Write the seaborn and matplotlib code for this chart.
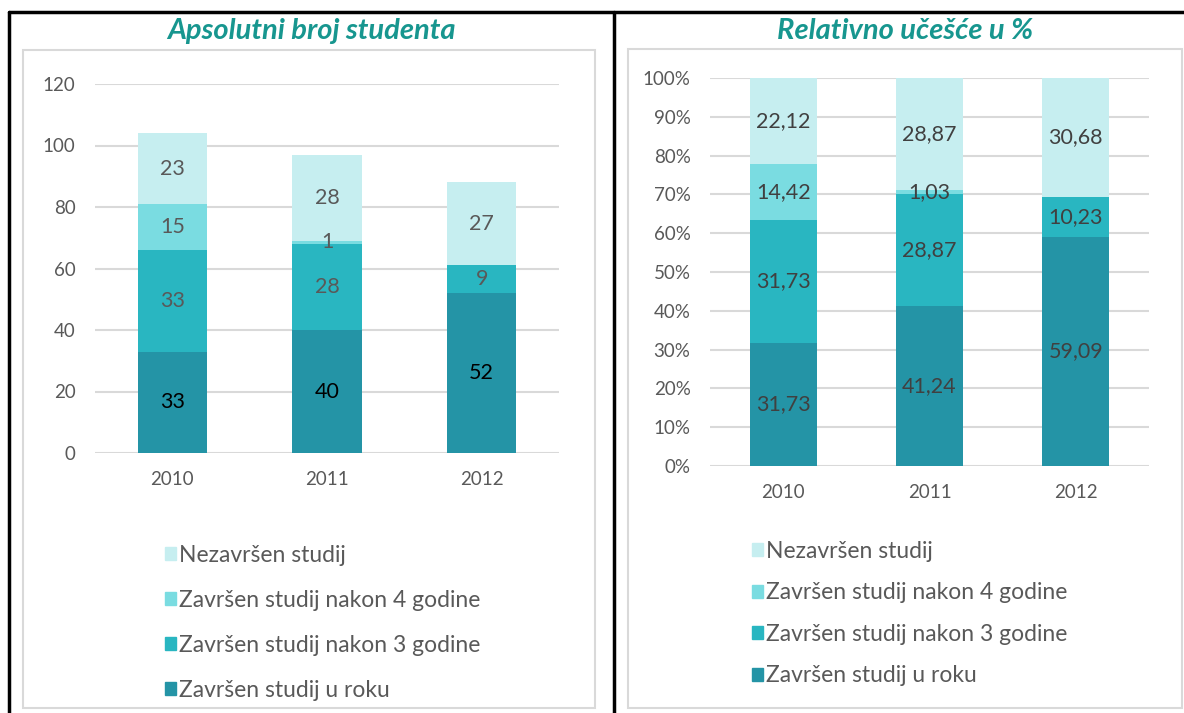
import numpy as np
import pandas as pd
import matplotlib
matplotlib.use("Agg")
import matplotlib.pyplot as plt
import seaborn as sns
from matplotlib.patches import Rectangle
from matplotlib.lines import Line2D
from matplotlib.ticker import FuncFormatter

# --- podaci ---
years = ["2010", "2011", "2012"]
series = ["Završen studij u roku", "Završen studij nakon 3 godine",
          "Završen studij nakon 4 godine", "Nezavršen studij"]
abs_roku = [33, 40, 52]
abs_nakon3 = [33, 28, 9]
abs_nakon4 = [15, 1, 0]
abs_nezavrsen = [23, 28, 27]
rel_roku = [31.73, 41.24, 59.09]
rel_nakon3 = [31.73, 28.87, 10.23]
rel_nakon4 = [14.42, 1.03, 0]
rel_nezavrsen = [22.12, 28.87, 30.68]

colors = ["#2494a6", "#29b6c1", "#7adce1", "#c6eef0"]
title_color = "#17968f"
text_gray = "#595959"
grid_gray = "#d9d9d9"

sns.set_theme(style="white")
plt.rcParams['font.family'] = ['Lato', 'DejaVu Sans']

W, H = 1184, 713
fig = plt.figure(figsize=(W / 100, H / 100), dpi=100)


def fx(px): return px / W
def fy(py): return 1 - py / H


def stacked(ax, vals_list, width, label_fmt, label_colors):
    df = pd.DataFrame({"year": years})
    cum = np.zeros(len(years))
    cums = []
    for v in vals_list:
        cum = cum + np.array(v, dtype=float)
        cums.append(cum.copy())
    # najviši stupac prvi, niži segmenti ga prekrivaju
    for i in range(len(vals_list) - 1, -1, -1):
        df["val"] = cums[i]
        sns.barplot(data=df, x="year", y="val", color=colors[i], width=width,
                    saturation=1, ax=ax, linewidth=0, zorder=2)
    for i, v in enumerate(vals_list):
        for j, val in enumerate(v):
            if val == 0:
                continue
            ax.text(j, cums[i][j] - val / 2, label_fmt(val), ha="center", va="center",
                    fontsize=15.5, color=label_colors[i], zorder=5)


def style_axes(ax):
    for s in ax.spines.values():
        s.set_visible(False)
    ax.grid(axis="y", color=grid_gray, linewidth=1.5, zorder=0)
    ax.set_axisbelow(True)
    ax.set_xlabel("")
    ax.set_ylabel("")
    ax.tick_params(axis="both", length=0, labelsize=13.5, labelcolor=text_gray)
    ax.tick_params(axis="x", pad=13)
    ax.tick_params(axis="y", pad=14)
    ax.set_xlim(-0.5, 2.5)


# --- lijevi grafikon ---
ax1 = fig.add_axes([fx(95), fy(453), fx(559) - fx(95), fy(84) - fy(453)])
stacked(ax1, [abs_roku, abs_nakon3, abs_nakon4, abs_nezavrsen], 0.45,
        lambda v: f"{int(v)}", ["black", text_gray, text_gray, text_gray])
style_axes(ax1)
ax1.set_ylim(0, 120)
ax1.set_yticks(np.arange(0, 121, 20))

# --- desni grafikon ---
ax2 = fig.add_axes([fx(710), fy(466), fx(1149) - fx(710), fy(78) - fy(466)])
stacked(ax2, [rel_roku, rel_nakon3, rel_nakon4, rel_nezavrsen], 0.46,
        lambda v: f"{v:.2f}".replace(".", ","), ["#404040"] * 4)
style_axes(ax2)
ax2.set_ylim(0, 100)
ax2.set_yticks(np.arange(0, 101, 10))
ax2.yaxis.set_major_formatter(FuncFormatter(lambda v, p: f"{int(v)}%"))

# --- naslovi ---
fig.text(fx(311), fy(31), "Apsolutni broj studenta", ha="center", va="center",
         fontsize=21, fontweight="bold", fontstyle="italic", color=title_color)
fig.text(fx(905), fy(31), "Relativno učešće u %", ha="center", va="center",
         fontsize=21, fontweight="bold", fontstyle="italic", color=title_color)

# --- legende ---
handles = [Rectangle((0, 0), 1, 1, color=colors[i]) for i in range(3, -1, -1)]
labels = [series[i] for i in range(3, -1, -1)]
leg1 = fig.legend(handles, labels, loc="upper left", bbox_to_anchor=(fx(160), fy(540)),
                  frameon=False, fontsize=16.5, labelcolor=text_gray, handlelength=0.5,
                  handleheight=0.5, handletextpad=0.15, labelspacing=1.05,
                  borderaxespad=0, borderpad=0.2)
leg2 = fig.legend(handles, labels, loc="upper left", bbox_to_anchor=(fx(747), fy(536)),
                  frameon=False, fontsize=16.5, labelcolor=text_gray, handlelength=0.5,
                  handleheight=0.5, handletextpad=0.15, labelspacing=0.9,
                  borderaxespad=0, borderpad=0.2)

# --- okviri ---
for (x0, y0, x1, y1) in [(23, 50, 595, 708), (628, 49, 1182, 708)]:
    fig.add_artist(Rectangle((fx(x0), fy(y1)), fx(x1) - fx(x0), fy(y0) - fy(y1),
                             fill=False, edgecolor=grid_gray, linewidth=1.5,
                             transform=fig.transFigure))
fig.add_artist(Line2D([fx(9), fx(9)], [fy(12), 0], color="black", linewidth=2.5,
                      transform=fig.transFigure))
fig.add_artist(Line2D([fx(613.5), fx(613.5)], [fy(12), 0], color="black", linewidth=2.5,
                      transform=fig.transFigure))
fig.add_artist(Line2D([fx(9), 1], [fy(12), fy(12)], color="black", linewidth=2.5,
                      transform=fig.transFigure))

fig.savefig("out.png", dpi=100)
